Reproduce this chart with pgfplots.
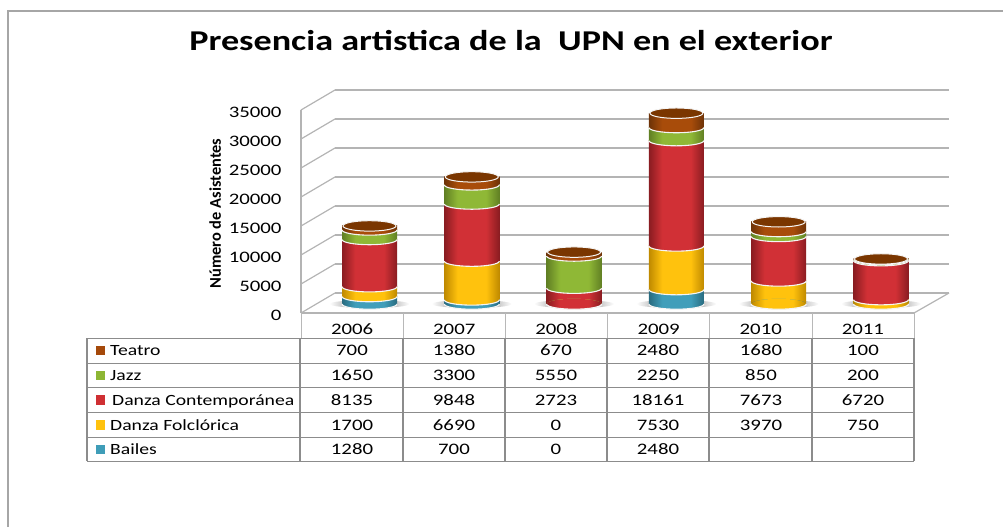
\documentclass[border=0pt]{standalone}
\usepackage{pgfplots}
\usepackage{pgfplotstable}
\usepackage{fontspec}
\pgfplotsset{compat=1.18}
\setmainfont[FakeStretch=1.26]{Carlito}
\newfontfamily\plainfont{Carlito}
\newfontfamily\numfont[FakeStretch=1.3]{Carlito}
\definecolor{grid}{HTML}{B4B4B4}
\definecolor{tbl}{HTML}{8C8C8C}
\definecolor{hdr}{HTML}{B8B8B8}
\definecolor{teaT}{HTML}{7A3600}
\definecolor{teaC}{HTML}{A5490A}
\definecolor{jazC}{HTML}{8DB634}
\definecolor{conC}{HTML}{CF2F33}
\definecolor{folC}{HTML}{FFC20E}
\definecolor{baiC}{HTML}{3F9DB8}
% horizontal cylinder shading: dark edge, bright plateau; the box of the path spans 25bp to 75bp
\newcommand{\cyl}[3]{%
  \pgfdeclarehorizontalshading{#1}{100bp}{%
    rgb(0bp)=(#2); rgb(25bp)=(#2); rgb(37bp)=(#3); rgb(63bp)=(#3); rgb(75bp)=(#2); rgb(100bp)=(#2)}}
\cyl{cyltea}{0.43,0.20,0.03}{0.66,0.30,0.04}
\cyl{cyljaz}{0.38,0.50,0.14}{0.56,0.72,0.21}
\cyl{cylcon}{0.54,0.11,0.13}{0.82,0.19,0.21}
\cyl{cylfol}{0.75,0.54,0.00}{1.00,0.76,0.05}
\cyl{cylbai}{0.16,0.42,0.50}{0.25,0.62,0.73}
\newcommand{\defcap}[2]{%
  \pgfdeclareplotmark{#1}{%
    \path[draw=none,rotate=4,shading=#2] (0pt,0pt) ellipse [x radius=27.5pt,y radius=5.2pt];
    \draw[rotate=4,white!92!gray,line width=1.1pt] (-27.5pt,0pt) arc[start angle=180,end angle=360,x radius=27.5pt,y radius=5.2pt];
  }}
\defcap{capbai}{cylbai}
\defcap{capfol}{cylfol}
\defcap{capcon}{cylcon}
\defcap{capjaz}{cyljaz}
\defcap{captea}{cyltea}
\pgfdeclareplotmark{captop}{%
  \path[fill=teaT,draw=white!92!gray,rotate=4,line width=1pt] (0pt,0pt) ellipse [x radius=26.5pt,y radius=5.2pt];
}
\pgfdeclareplotmark{shadow}{%
  \path[draw=none,left color=white,right color=white,middle color=black!62] (0pt,0pt) ellipse [x radius=40pt,y radius=4pt];
}
\pgfplotstableread{
x Base Bailes Folk Cont Jazz Teatro
0 0 1280 1700 8135 1650 700
1 0 700 6690 9848 3300 1380
2 0 0 0 2723 5550 670
3 0 2480 7530 18161 2250 2480
4 0 0 3970 7673 850 1680
5 0 0 750 6720 200 100
}\data
\pgfplotsset{barframe/.style={
  at={(318.35pt,-304pt)},anchor=south west,scale only axis,width=613.8pt,height=203pt,
  xmin=-0.5,xmax=5.5,ymin=0,ymax=35000,hide axis,clip=false}}
\newcommand{\numf}{\numfont\fontsize{16pt}{18pt}\selectfont}
\newcommand{\tabrow}[9]{%
  \fill[#2] (95.5pt,-#1pt+4.7pt) rectangle (105pt,-#1pt-4.7pt);
  \node[anchor=base west,font=\fontsize{15.6pt}{18pt}\selectfont,inner sep=0] at (#3pt,-#1pt-5pt) {#4};
  \node[anchor=base,font=\numf,inner sep=0] at (352pt,-#1pt-5pt) {#5};
  \node[anchor=base,font=\numf,inner sep=0] at (454pt,-#1pt-5pt) {#6};
  \node[anchor=base,font=\numf,inner sep=0] at (556pt,-#1pt-5pt) {#7};
  \node[anchor=base,font=\numf,inner sep=0] at (658pt,-#1pt-5pt) {#8};
  \tabrowb{#1}#9}
\newcommand{\tabrowb}[3]{%
  \node[anchor=base,font=\numf,inner sep=0] at (761pt,-#1pt-5pt) {#2};
  \node[anchor=base,font=\numf,inner sep=0] at (863pt,-#1pt-5pt) {#3};}
\begin{document}
\begin{tikzpicture}
\path[use as bounding box] (0,0) rectangle (1003pt,-527pt);
% outer frame
\draw[color=black!35,line width=1.4pt] (8pt,-527pt) -- (8pt,-11pt) -- (1003pt,-11pt);
% back wall
\begin{axis}[at={(335pt,-293pt)},anchor=south west,scale only axis,width=614pt,height=203pt,
  xmin=0,xmax=1,ymin=0,ymax=35000,axis line style={draw=none},scaled y ticks=false,
  ytick={0,5000,10000,15000,20000,25000,30000,35000},xtick=\empty,
  ymajorgrids,grid style={color=grid,line width=1.4pt},major tick length=0pt,yticklabels={}]
\addplot[draw=none] coordinates {(0,0)(1,35000)};
\end{axis}
% side wall and floor
\foreach \y in {110,139,168,197,226,255,284,313}
  \draw[color=grid,line width=1.2pt] (301pt,-\y pt) -- (335pt,-\y pt+20pt);
\draw[color=grid,line width=1.2pt] (914pt,-313pt) -- (949pt,-293pt);
% front axis, ticks and titles
\begin{axis}[at={(301pt,-313pt)},anchor=south west,scale only axis,width=613pt,height=203pt,
  xmin=-0.5,xmax=5.5,ymin=0,ymax=35000,clip=false,
  axis x line*=bottom,axis y line*=left,axis line style={color=grid,line width=1.2pt,-},
  ytick={0,5000,10000,15000,20000,25000,30000,35000},scaled y ticks=false,
  xtick={0,1,2,3,4,5},xticklabels={2006,2007,2008,2009,2010,2011},
  major tick length=0pt,
  /pgf/number format/assume math mode=true,
  /pgf/number format/1000 sep={},
  tick label style={font=\numf},
  yticklabel style={anchor=east,xshift=-16pt,yshift=-2pt},
  xticklabel style={anchor=center,yshift=-16pt},
  title={\fontsize{28.7pt}{32pt}\selectfont\bfseries Presencia artistica de la\ \ UPN en el exterior},
  every axis title/.style={at={(axis description cs:0.3426,1.34)},anchor=center},
  ylabel={\plainfont\fontsize{16.4pt}{18pt}\selectfont\bfseries Número de Asistentes},
  every axis y label/.style={at={(axis description cs:-0.14,0.49)},rotate=90,anchor=center}]
\addplot[draw=none] coordinates {(0,0)(5,35000)};
\end{axis}
% base shadows
\begin{axis}[barframe]
\addplot[only marks,mark=shadow] table[x=x,y=Base] {\data};
\end{axis}
% cylinder bodies: one axis per year, so each bar gets its own shading
\foreach \i in {0,1,2,3,4,5}{
\begin{axis}[barframe,ybar stacked,bar width=55pt,restrict x to domain=\i:\i]
\addplot[draw=none,shading=cylbai] table[x=x,y=Bailes] {\data};
\addplot[draw=none,shading=cylfol] table[x=x,y=Folk] {\data};
\addplot[draw=none,shading=cylcon] table[x=x,y=Cont] {\data};
\addplot[draw=none,shading=cyljaz] table[x=x,y=Jazz] {\data};
\addplot[draw=none,shading=cyltea] table[x=x,y=Teatro] {\data};
\end{axis}
}
% curved boundaries and top
\begin{axis}[barframe,stack plots=y,reverse stacked plots=false]
\addplot[only marks,mark=capbai] table[x=x,y=Base] {\data};
\addplot[only marks,mark=capfol] table[x=x,y=Bailes] {\data};
\addplot[only marks,mark=capcon] table[x=x,y=Folk] {\data};
\addplot[only marks,mark=capjaz] table[x=x,y=Cont] {\data};
\addplot[only marks,mark=captea] table[x=x,y=Jazz] {\data};
\addplot[only marks,mark=captop] table[x=x,y=Teatro] {\data};
\end{axis}
% data table
\foreach \x in {403,505,607,709,812}
  \draw[color=hdr,line width=1pt] (\x pt,-313pt) -- (\x pt,-338pt);
\draw[color=hdr,line width=1pt] (301pt,-313pt) -- (301pt,-338pt);
\draw[color=hdr,line width=1pt] (914pt,-313pt) -- (914pt,-338pt);
\foreach \y in {338,363,387,412,437,461}
  \draw[color=tbl,line width=1pt] (87pt,-\y pt) -- (914pt,-\y pt);
\foreach \x in {87,300,403,505,607,709,812,914}
  \draw[color=tbl,line width=1.1pt] (\x pt,-338pt) -- (\x pt,-461pt);
\tabrow{350.5}{teaC}{110}{Teatro}{700}{1380}{670}{2480}{{1680}{100}}
\tabrow{375.5}{jazC}{110}{Jazz}{1650}{3300}{5550}{2250}{{850}{200}}
\tabrow{400}{conC}{112}{Danza Contemporánea}{8135}{9848}{2723}{18161}{{7673}{6720}}
\tabrow{425}{folC}{110}{Danza Folclórica}{1700}{6690}{0}{7530}{{3970}{750}}
\tabrow{449.5}{baiC}{110}{Bailes}{1280}{700}{0}{2480}{{}{}}
\end{tikzpicture}
\end{document}
